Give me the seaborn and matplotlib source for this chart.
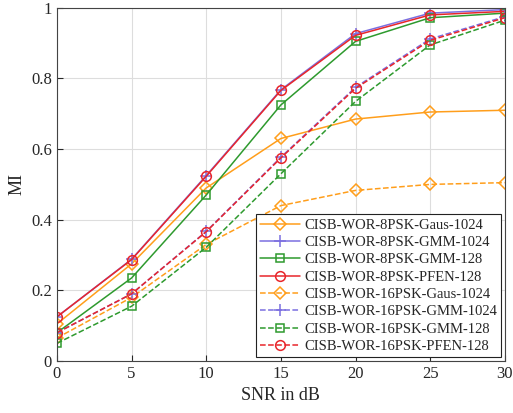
import numpy as np
import pandas as pd
import matplotlib
matplotlib.use("Agg")
import matplotlib.pyplot as plt
import seaborn as sns

snr = [0, 5, 10, 15, 20, 25, 30]

psk8_gaus_1024 = [0.105, 0.275, 0.49, 0.63, 0.685, 0.705, 0.71]
psk8_gmm_1024 = [0.125, 0.288, 0.525, 0.768, 0.927, 0.985, 0.995]
psk8_gmm_128 = [0.08, 0.235, 0.47, 0.725, 0.905, 0.972, 0.985]
psk8_pfen_128 = [0.125, 0.287, 0.523, 0.766, 0.922, 0.98, 0.99]
psk16_gaus_1024 = [0.065, 0.18, 0.33, 0.44, 0.483, 0.5, 0.505]
psk16_gmm_1024 = [0.08, 0.19, 0.367, 0.577, 0.775, 0.912, 0.975]
psk16_gmm_128 = [0.05, 0.155, 0.322, 0.53, 0.735, 0.895, 0.965]
psk16_pfen_128 = [0.08, 0.19, 0.366, 0.575, 0.772, 0.908, 0.972]

labels = [
    "CISB-WOR-8PSK-Gaus-1024",
    "CISB-WOR-8PSK-GMM-1024",
    "CISB-WOR-8PSK-GMM-128",
    "CISB-WOR-8PSK-PFEN-128",
    "CISB-WOR-16PSK-Gaus-1024",
    "CISB-WOR-16PSK-GMM-1024",
    "CISB-WOR-16PSK-GMM-128",
    "CISB-WOR-16PSK-PFEN-128",
]
series = [psk8_gaus_1024, psk8_gmm_1024, psk8_gmm_128, psk8_pfen_128,
          psk16_gaus_1024, psk16_gmm_1024, psk16_gmm_128, psk16_pfen_128]

colors = ["#FF9E1B", "#7B6FE0", "#2E9A2E", "#E8262B"] * 2
markers = ["D", "+", "s", "o"] * 2
msizes = [6.5, 8, 6, 7] * 2
dashes = ["-"] * 4 + ["--"] * 4

sns.set_style("ticks")
plt.rcParams["font.family"] = ["Liberation Serif", "DejaVu Serif"]

fig = plt.figure(figsize=(5.13, 4.13), dpi=100)
ax = fig.add_axes([0.111, 0.126, 0.873, 0.855])

for lab, vals, c, m, ms, ls in zip(labels, series, colors, markers, msizes, dashes):
    df = pd.DataFrame({"snr": snr, "mi": vals})
    sns.lineplot(data=df, x="snr", y="mi", ax=ax, color=c, marker=m,
                 markersize=ms, linestyle=ls, linewidth=1.1,
                 markerfacecolor="none", markeredgecolor=c, markeredgewidth=1.1,
                 label=lab)

ax.set_xlim(0, 30)
ax.set_ylim(0, 1)
ax.set_xticks([0, 5, 10, 15, 20, 25, 30])
ax.set_yticks([0, 0.2, 0.4, 0.6, 0.8, 1])
ax.set_yticklabels(["0", "0.2", "0.4", "0.6", "0.8", "1"])
ax.grid(True, color="#dddddd", linewidth=0.8)
ax.tick_params(direction="in", labelsize=12, length=4)
for s in ax.spines.values():
    s.set_color("#444444")
ax.set_xlabel("SNR in dB", fontsize=13)
ax.set_ylabel("MI", fontsize=13)

leg = ax.legend(loc="lower right", fontsize=10.5, frameon=True, fancybox=False,
                edgecolor="#222222", framealpha=1, handlelength=2.7,
                borderpad=0.3, labelspacing=0.28, handletextpad=0.3,
                borderaxespad=0.25)
leg.get_frame().set_linewidth(0.8)

fig.savefig("out.png", dpi=100)
